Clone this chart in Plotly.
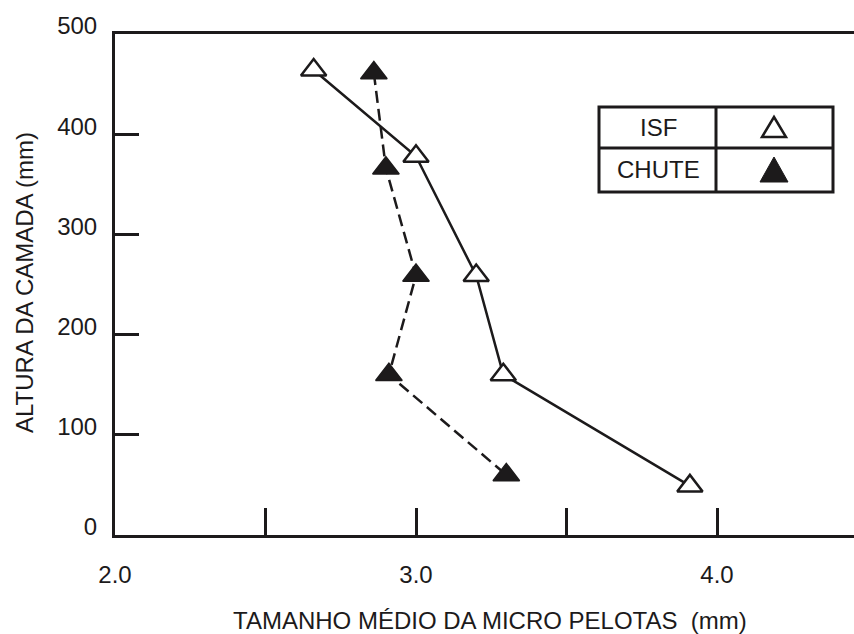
import plotly.graph_objects as go

# ---- data ----
isf_x = [2.66, 3.00, 3.20, 3.29, 3.91]
isf_y = [464, 378, 259, 160, 49]
chute_x = [2.86, 2.90, 3.00, 2.91, 3.30]
chute_y = [461, 366, 259, 160, 60]

x_tickvals = [2.0, 2.5, 3.0, 3.5, 4.0]
x_ticktext = ["2.0", "", "3.0", "", "4.0"]
y_tickvals = [0, 100, 200, 300, 400, 500]
y_ticktext = ["0", "100", "200", "300", "400", "500"]

series_names = ["ISF", "CHUTE"]
x_title = "TAMANHO MÉDIO DA MICRO PELOTAS&nbsp; (mm)"
y_title = "ALTURA DA CAMADA (mm)"

# ---- layout geometry (pixels) ----
W, H = 854, 634
L, R, T, B = 115, 854, 34, 535
INK = "#1c1a1b"
FONT = "Liberation Sans, Arial, Helvetica, sans-serif"


def px(xp):
    return (xp - L) / (R - L)


def py(yp):
    return (B - yp) / (B - T)


fig = go.Figure()
fig.add_trace(go.Scatter(
    x=isf_x, y=isf_y, mode="lines+markers", name=series_names[0],
    line=dict(color=INK, width=2.5),
    marker=dict(symbol="triangle-up", size=22, color="white",
                line=dict(color=INK, width=2.5)),
))
fig.add_trace(go.Scatter(
    x=chute_x, y=chute_y, mode="lines+markers", name=series_names[1],
    line=dict(color=INK, width=2.5, dash="12px,6px"),
    marker=dict(symbol="triangle-up", size=23, color=INK,
                line=dict(color=INK, width=1.5)),
))

x_unit_px = 301.0
fig.update_xaxes(
    range=[2.0, 2.0 + (R - L) / x_unit_px],
    tickvals=x_tickvals, ticktext=x_ticktext,
    ticks="inside", ticklen=27, tickwidth=3, tickcolor=INK,
    showline=True, linewidth=3, linecolor=INK, mirror=True,
    showgrid=False, zeroline=False, automargin=False,
    tickfont=dict(family=FONT, size=24, color=INK),
    ticklabelstandoff=16,
)
fig.update_yaxes(
    range=[0, 500],
    tickvals=y_tickvals, ticktext=y_ticktext,
    ticks="inside", ticklen=24, tickwidth=3, tickcolor=INK,
    showline=True, linewidth=3, linecolor=INK,
    showgrid=False, zeroline=False, automargin=False,
    tickfont=dict(family=FONT, size=24, color=INK),
    ticklabelstandoff=10, ticklabelshift=-8,
)

# legend table drawn as shapes
box_l, box_r, box_t, box_b = 599, 833, 107, 192
mid_x, mid_y = 716, 148
shapes = [
    dict(type="rect", xref="paper", yref="paper",
         x0=px(box_l), x1=px(box_r), y0=py(box_b), y1=py(box_t),
         line=dict(color=INK, width=3), fillcolor="white", layer="above"),
    dict(type="line", xref="paper", yref="paper",
         x0=px(box_l), x1=px(box_r), y0=py(mid_y), y1=py(mid_y),
         line=dict(color=INK, width=3), layer="above"),
    dict(type="line", xref="paper", yref="paper",
         x0=px(mid_x), x1=px(mid_x), y0=py(box_b), y1=py(box_t),
         line=dict(color=INK, width=3), layer="above"),
]


def tri_path(cx, top, bottom, half_w):
    return (f"M {px(cx)},{py(top)} L {px(cx + half_w)},{py(bottom)} "
            f"L {px(cx - half_w)},{py(bottom)} Z")


shapes.append(dict(type="path", xref="paper", yref="paper",
                   path=tri_path(774, 117, 137, 12),
                   line=dict(color=INK, width=2.5), fillcolor="white", layer="above"))
shapes.append(dict(type="path", xref="paper", yref="paper",
                   path=tri_path(774, 157, 182, 14),
                   line=dict(color=INK, width=1), fillcolor=INK, layer="above"))


def label(text, xp, yp, angle=0):
    return dict(text=text, x=px(xp), y=py(yp), xref="paper", yref="paper",
                xanchor="center", yanchor="middle", showarrow=False,
                textangle=angle, font=dict(family=FONT, size=24, color=INK))


annotations = [
    label(series_names[0], 658, 128),
    label(series_names[1], 658, 170),
    label(x_title, 490, 620),
    label(y_title, 24, 283, -90),
]

fig.update_layout(
    width=W, height=H,
    margin=dict(l=L, r=W - R, t=T, b=H - B, pad=0),
    paper_bgcolor="white", plot_bgcolor="white",
    showlegend=False,
    shapes=shapes, annotations=annotations,
)

fig.write_html("out.html",
               config={"displayModeBar": False},
               post_script="document.body.style.margin='0px';"
                           "document.body.style.overflow='hidden';")
